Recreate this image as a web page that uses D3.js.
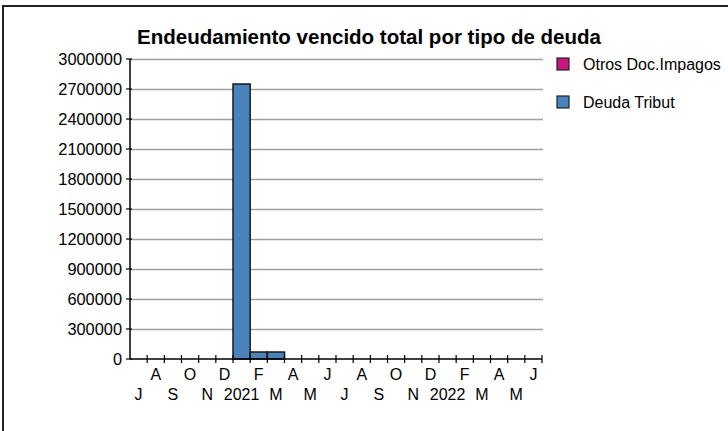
<!DOCTYPE html>
<html>
<head>
<meta charset="utf-8">
<script src="https://cdn.jsdelivr.net/npm/d3@7"></script>
<style>
    body { margin: 0; background: #fff; }
    text { font-family: "Liberation Sans", Arial, sans-serif; fill: #000; }
</style>
</head>
<body>
<svg id="chart"></svg>
<script>
// months Jul 2020 .. Jun 2022
const months = ["2020-07", "2020-08", "2020-09", "2020-10", "2020-11", "2020-12",
    "2021-01", "2021-02", "2021-03", "2021-04", "2021-05", "2021-06",
    "2021-07", "2021-08", "2021-09", "2021-10", "2021-11", "2021-12",
    "2022-01", "2022-02", "2022-03", "2022-04", "2022-05", "2022-06"];
const monthLabels = ["J", "A", "S", "O", "N", "D", "2021", "F", "M", "A", "M", "J",
    "J", "A", "S", "O", "N", "D", "2022", "F", "M", "A", "M", "J"];
const deudaTribut = [0, 0, 0, 0, 0, 0, 2750000, 70000, 70000, 0, 0, 0,
    0, 0, 0, 0, 0, 0, 0, 0, 0, 0, 0, 0];
const otrosDoc = [0, 0, 0, 0, 0, 0, 0, 0, 0, 0, 0, 0,
    0, 0, 0, 0, 0, 0, 0, 0, 0, 0, 0, 0];
const yTicks = [0, 300000, 600000, 900000, 1200000, 1500000, 1800000, 2100000, 2400000, 2700000, 3000000];
const seriesNames = ["Otros Doc.Impagos", "Deuda Tribut"];
const seriesColors = ["#c8187f", "#4a83bb"];

const width = 728, height = 431;
const margin = { top: 59, right: 186, bottom: 72, left: 130 };
const innerW = width - margin.left - margin.right;
const innerH = height - margin.top - margin.bottom;

const svg = d3.select("#chart").attr("width", width).attr("height", height);

// outer frame
svg.append("rect")
    .attr("x", 3).attr("y", 6)
    .attr("width", 800).attr("height", 500)
    .attr("fill", "none")
    .attr("stroke", "#222")
    .attr("stroke-width", 2);

svg.append("text")
    .attr("x", 369).attr("y", 44)
    .attr("text-anchor", "middle")
    .style("font-size", "20px")
    .style("font-weight", "bold")
    .attr("textLength", 464)
    .attr("lengthAdjust", "spacingAndGlyphs")
    .text("Endeudamiento vencido total por tipo de deuda");

const data = months.map((m, i) => ({ month: m, deuda: deudaTribut[i], otros: otrosDoc[i] }));

const xScale = d3.scaleBand().domain(months).range([0, innerW]).padding(0);
const yScale = d3.scaleLinear().domain([0, 3000000]).range([innerH, 0]);

const g = svg.append("g").attr("transform", `translate(${margin.left}, ${margin.top})`);

// gridlines
g.selectAll("line.grid")
    .data(yTicks.filter(t => t > 0))
    .join("line")
    .attr("class", "grid")
    .attr("x1", 0).attr("x2", innerW + 1)
    .attr("y1", d => yScale(d) + 0.5).attr("y2", d => yScale(d) + 0.5)
    .attr("stroke", "#a0a0a0")
    .attr("stroke-width", 1.5);

// stacked bars
const stacked = d3.stack().keys(["deuda", "otros"])(data);
const colorOf = { deuda: seriesColors[1], otros: seriesColors[0] };

g.selectAll("g.series")
    .data(stacked)
    .join("g")
    .attr("class", "series")
    .attr("fill", d => colorOf[d.key])
    .selectAll("rect")
    .data(d => d.filter(p => p[1] - p[0] > 0))
    .join("rect")
    .attr("x", d => xScale(d.data.month))
    .attr("y", d => yScale(d[1]))
    .attr("width", xScale.bandwidth())
    .attr("height", d => yScale(d[0]) - yScale(d[1]))
    .attr("stroke", "#1a1a1a")
    .attr("stroke-width", 1.5);

// y axis
g.append("line")
    .attr("x1", 0).attr("x2", 0)
    .attr("y1", 0).attr("y2", innerH)
    .attr("stroke", "#000").attr("stroke-width", 1.5);

g.selectAll("line.ytick")
    .data(yTicks)
    .join("line")
    .attr("class", "ytick")
    .attr("x1", -4).attr("x2", 2)
    .attr("y1", d => yScale(d)).attr("y2", d => yScale(d))
    .attr("stroke", "#000").attr("stroke-width", 1.2);

g.selectAll("text.ylab")
    .data(yTicks)
    .join("text")
    .attr("class", "ylab")
    .attr("x", -8)
    .attr("y", d => yScale(d))
    .attr("dy", "0.36em")
    .attr("text-anchor", "end")
    .style("font-size", "17px")
    .attr("textLength", d => String(d).length * 9.1)
    .attr("lengthAdjust", "spacingAndGlyphs")
    .text(d => d);

// x axis
g.append("line")
    .attr("x1", 0).attr("x2", innerW)
    .attr("y1", innerH).attr("y2", innerH)
    .attr("stroke", "#000").attr("stroke-width", 1.5);

const boundaries = months.slice(1).map(m => xScale(m)).concat([innerW]);
g.selectAll("line.xtick")
    .data(boundaries)
    .join("line")
    .attr("class", "xtick")
    .attr("x1", d => d).attr("x2", d => d)
    .attr("y1", innerH - 4).attr("y2", innerH + 4)
    .attr("stroke", "#000").attr("stroke-width", 1.2);

g.selectAll("text.xlab")
    .data(months)
    .join("text")
    .attr("class", "xlab")
    .attr("x", d => xScale(d) + xScale.bandwidth() / 2)
    .attr("y", (d, i) => innerH + (i % 2 === 1 ? 21 : 41))
    .attr("text-anchor", "middle")
    .style("font-size", "16px")
    .text((d, i) => monthLabels[i]);

// legend
const legend = svg.append("g").attr("transform", "translate(557, 58)");
const items = legend.selectAll("g")
    .data(seriesNames)
    .join("g")
    .attr("transform", (d, i) => `translate(0, ${i * 38})`);

items.append("rect")
    .attr("width", 12).attr("height", 12)
    .attr("fill", (d, i) => seriesColors[i])
    .attr("stroke", "#222").attr("stroke-width", 1.2);

items.append("text")
    .attr("x", 26).attr("y", 6)
    .attr("dy", "0.36em")
    .style("font-size", "16px")
    .text(d => d);
</script>
</body>
</html>
